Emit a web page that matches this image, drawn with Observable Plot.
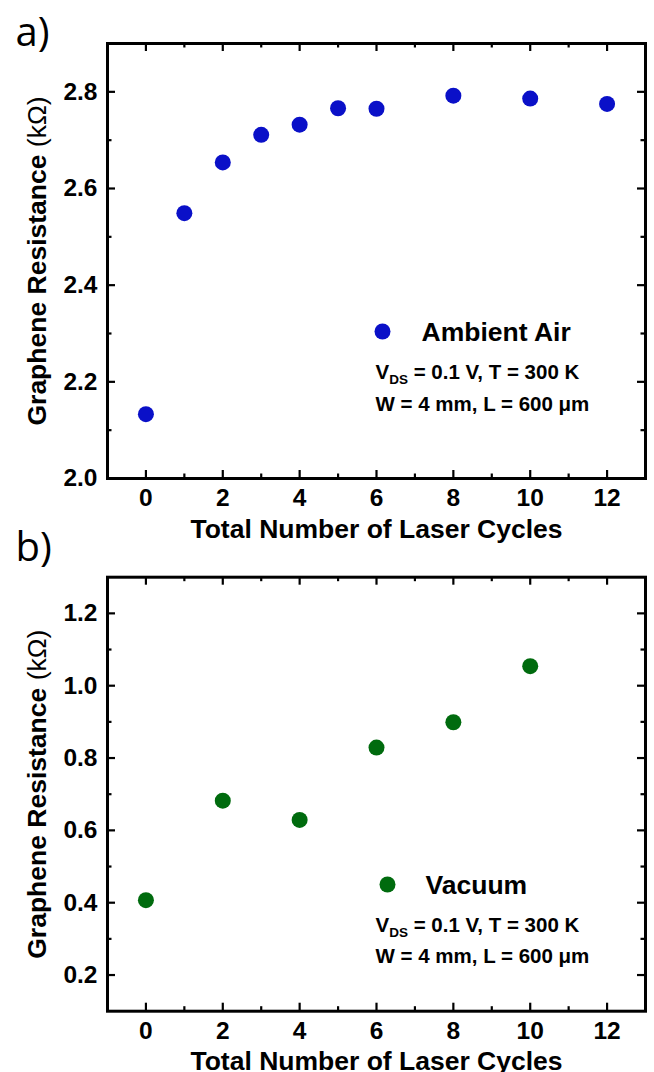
<!DOCTYPE html>
<html>
<head>
<meta charset="utf-8">
<script src="https://cdn.jsdelivr.net/npm/d3@7"></script>
<script src="https://cdn.jsdelivr.net/npm/@observablehq/plot@0.6"></script>
<style>
  html, body { margin: 0; padding: 0; background: #fff; }
  #wrap { width: 654px; height: 1072px; position: relative; overflow: hidden; background: #fff; }
  #wrap svg { display: block; overflow: visible; }
</style>
</head>
<body>
<div id="wrap"></div>
<script>
// ---- data ----
const cyclesAir = [0, 1, 2, 3, 4, 5, 6, 8, 10, 12];
const resistanceAir = [2.133, 2.549, 2.654, 2.711, 2.732, 2.766, 2.765, 2.792, 2.786, 2.775];
const cyclesVacuum = [0, 2, 4, 6, 8, 10];
const resistanceVacuum = [0.407, 0.682, 0.629, 0.829, 0.899, 1.054];

const xMajorTicks = [0, 2, 4, 6, 8, 10, 12];
const xMinorTicks = [1, 3, 5, 7, 9, 11];
const yMajorAir = [2.0, 2.2, 2.4, 2.6, 2.8];
const yMinorAir = [2.1, 2.3, 2.5, 2.7];
const yMajorVacuum = [0.2, 0.4, 0.6, 0.8, 1.0, 1.2];
const yMinorVacuum = [0.3, 0.5, 0.7, 0.9, 1.1];

const xLabel = "Total Number of Laser Cycles";
const yLabel = "Graphene Resistance (kΩ)";
const condLine1 = "VDS = 0.1 V, T = 300 K";
const condLine2 = "W = 4 mm, L = 600 μm";
const panelLabels = ["a)", "b)"];
const seriesNames = ["Ambient Air", "Vacuum"];

// ---- drawing ----
const W = 654, ML = 107, MR = 9;
const FONT = "'Liberation Sans', Arial, Helvetica, sans-serif";

function panel(o) {
  const fh = o.height - o.marginTop - o.marginBottom;
  const fw = W - ML - MR;
  const major = 8, minor = 4.5;
  const tick = {stroke: "black", strokeWidth: 2.2};
  const pts = o.xs.map((x, i) => ({x, y: o.ys[i]}));
  return Plot.plot({
    width: W, height: o.height,
    marginLeft: ML, marginRight: MR, marginTop: o.marginTop, marginBottom: o.marginBottom,
    style: {fontFamily: FONT, fontWeight: "bold", color: "black", background: "transparent", overflow: "visible"},
    x: {domain: [-1, 13]},
    y: {domain: o.yDomain},
    marks: [
      Plot.ruleX(xMajorTicks, {x: d => d, insetTop: fh - major, ...tick}),
      Plot.ruleX(xMajorTicks, {x: d => d, insetBottom: fh - major, ...tick}),
      Plot.ruleX(xMinorTicks, {x: d => d, insetTop: fh - minor, ...tick}),
      Plot.ruleX(xMinorTicks, {x: d => d, insetBottom: fh - minor, ...tick}),
      Plot.ruleY(o.yMajor, {y: d => d, insetRight: fw - major, ...tick}),
      Plot.ruleY(o.yMajor, {y: d => d, insetLeft: fw - major, ...tick}),
      Plot.ruleY(o.yMinor, {y: d => d, insetRight: fw - minor, ...tick}),
      Plot.ruleY(o.yMinor, {y: d => d, insetLeft: fw - minor, ...tick}),
      Plot.frame({stroke: "black", strokeWidth: 3}),
      Plot.axisX(xMajorTicks, {tickSize: 0, tickPadding: 10, fontSize: 24.5, label: null}),
      Plot.axisY(o.yMajor, {tickSize: 0, tickPadding: 10, fontSize: 24.5, label: null, tickFormat: d3.format(".1f")}),
      Plot.text([xLabel], {text: d => d, frameAnchor: "bottom", dy: 59, lineAnchor: "bottom", fontSize: 26.5}),
      Plot.text([yLabel], {text: d => d, frameAnchor: "left", dx: -70, rotate: -90, fontSize: 26.5, textAnchor: "middle", lineAnchor: "middle"}),
      Plot.dot(pts, {x: "x", y: "y", r: 8, fill: o.color}),
      // legend / annotation
      Plot.dot([o.name], {frameAnchor: "bottom-left", dx: o.leg.dot[0], dy: o.leg.dot[1], r: 8, fill: o.color}),
      Plot.text([o.name], {text: d => d, frameAnchor: "bottom-left", dx: o.leg.name[0], dy: o.leg.name[1], textAnchor: "start", lineAnchor: "bottom", fontSize: 26.5}),
      Plot.text([condLine1], {text: d => d, frameAnchor: "bottom-left", dx: o.leg.l1[0], dy: o.leg.l1[1], textAnchor: "start", lineAnchor: "bottom", fontSize: 20.5}),
      Plot.text([condLine2], {text: d => d, frameAnchor: "bottom-left", dx: o.leg.l2[0], dy: o.leg.l2[1], textAnchor: "start", lineAnchor: "bottom", fontSize: 20.5}),
      Plot.text([o.panel], {text: d => d, frameAnchor: "top-left", dx: o.leg.panel[0], dy: o.leg.panel[1], textAnchor: "start", lineAnchor: "bottom", fontSize: 40, fontFamily: "'Open Sans', 'Noto Sans', sans-serif", fontWeight: "normal"})
    ]
  });
}

const svgA = panel({
  xs: cyclesAir, ys: resistanceAir, color: "#0a10c8",
  yDomain: [2.0, 2.9], yMajor: yMajorAir, yMinor: yMinorAir,
  height: 545, marginTop: 43, marginBottom: 67,
  name: seriesNames[0], panel: panelLabels[0],
  leg: {dot: [275, -147], name: [314, -138], l1: [268, -100], l2: [268, -68], panel: [-92, 2]}
});
const svgB = panel({
  xs: cyclesVacuum, ys: resistanceVacuum, color: "#006b0e",
  yDomain: [0.1, 1.3], yMajor: yMajorVacuum, yMinor: yMinorVacuum,
  height: 527, marginTop: 31.7, marginBottom: 61.3,
  name: seriesNames[1], panel: panelLabels[1],
  leg: {dot: [280, -126.7], name: [318, -117.7], l1: [268, -79.7], l2: [268, -48.7], panel: [-92, -16.7]}
});

const wrap = document.getElementById("wrap");
wrap.append(svgA, svgB);

// rich text touches: subscript and normal-weight unit
const NS = "http://www.w3.org/2000/svg";
for (const t of wrap.querySelectorAll("text")) {
  const s = t.textContent;
  if (s === yLabel) {
    t.textContent = "Graphene Resistance ";
    const sp = document.createElementNS(NS, "tspan");
    sp.setAttribute("style", "font-weight:normal");
    sp.textContent = "(kΩ)";
    t.append(sp);
  } else if (s === condLine1) {
    t.textContent = "V";
    const sub = document.createElementNS(NS, "tspan");
    sub.setAttribute("dy", "5");
    sub.setAttribute("font-size", "13.5");
    sub.textContent = "DS";
    const rest = document.createElementNS(NS, "tspan");
    rest.setAttribute("dy", "-5");
    rest.setAttribute("font-size", "20.5");
    rest.textContent = condLine1.slice(3);
    t.append(sub, rest);
  }
}
</script>
</body>
</html>
